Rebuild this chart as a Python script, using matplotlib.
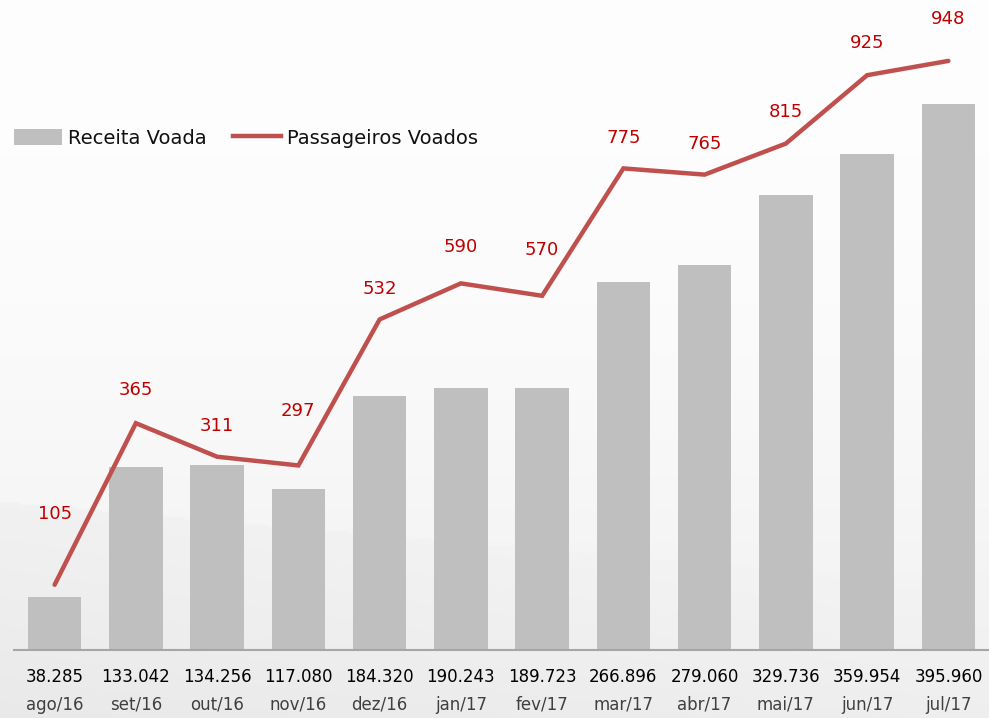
import numpy as np
import matplotlib
matplotlib.use("Agg")
import matplotlib.pyplot as plt
from matplotlib.patches import Patch
from matplotlib.lines import Line2D
import matplotlib.transforms as mtransforms

months = ["ago/16", "set/16", "out/16", "nov/16", "dez/16", "jan/17",
          "fev/17", "mar/17", "abr/17", "mai/17", "jun/17", "jul/17"]
receita = [38.285, 133.042, 134.256, 117.080, 184.320, 190.243,
           189.723, 266.896, 279.060, 329.736, 359.954, 395.960]
receita_labels = ["38.285", "133.042", "134.256", "117.080", "184.320", "190.243",
                  "189.723", "266.896", "279.060", "329.736", "359.954", "395.960"]
passageiros = [105, 365, 311, 297, 532, 590, 570, 775, 765, 815, 925, 948]
# label offsets (points) above each line point
label_dy = [51, 24, 22, 39, 22, 26, 33, 22, 22, 23, 23, 30]

W, H = 989, 718
fig = plt.figure(figsize=(W / 100, H / 100), dpi=100)

# background gradient
bg = fig.add_axes([0, 0, 1, 1], zorder=-10)
yy, xx = np.mgrid[0:1:300j, 0:1:300j]
val = 0.995 - 0.06 * yy ** 2
val = np.where((yy > 0.82 - 0.12 * (1 - xx)), val - 0.02 * (1 - xx), val)
img = np.dstack([val, val, val])
bg.imshow(img, aspect="auto", extent=[0, 1, 1, 0], interpolation="bilinear")
bg.axis("off")

left_px, base_px = 14, 650
ax = fig.add_axes([left_px / W, 1 - base_px / H, (W - left_px) / W, base_px / H])
ax.patch.set_alpha(0)
x = np.arange(len(months))
ax.bar(x, receita, width=0.66, color="#BFBFBF", zorder=2)
ax.set_xlim(-0.5, 11.5)
ax.set_ylim(0, 471.4)
for s in ["top", "right", "left"]:
    ax.spines[s].set_visible(False)
ax.spines["bottom"].set_color("#A6A6A6")
ax.spines["bottom"].set_linewidth(1.5)
ax.set_yticks([])
ax.set_xticks([])

trans = mtransforms.blended_transform_factory(ax.transData, ax.transAxes)
for i in range(len(months)):
    ax.annotate(receita_labels[i], (x[i], 0), xycoords=trans, xytext=(0, -19.5),
                textcoords="offset points", ha="center", va="center",
                fontsize=12, color="#000000")
    ax.annotate(months[i], (x[i], 0), xycoords=trans, xytext=(0, -39.5),
                textcoords="offset points", ha="center", va="center",
                fontsize=12, color="#404040")

ax2 = ax.twinx()
ax2.set_ylim(0, 1046)
ax2.plot(x, passageiros, color="#C0504D", lw=3.2, solid_capstyle="round",
         solid_joinstyle="miter", zorder=3)
ax2.axis("off")
for i, v in enumerate(passageiros):
    ax2.annotate(str(v), (x[i], v), xytext=(0, label_dy[i]), textcoords="offset points",
                 ha="center", va="center", fontsize=13, color="#C00000")

handles = [Patch(facecolor="#BFBFBF", edgecolor="none"),
           Line2D([0], [0], color="#C0504D", lw=3.2)]
fig.legend(handles, ["Receita Voada", "Passageiros Voados"], loc="center left",
           bbox_to_anchor=(14 / W, 1 - 138 / H), ncol=2, frameon=False,
           fontsize=14, handlelength=2.47, handletextpad=0.3, columnspacing=1.35,
           handleheight=0.85, borderpad=0, borderaxespad=0, labelcolor="#111111")

fig.savefig("out.png", dpi=100)
